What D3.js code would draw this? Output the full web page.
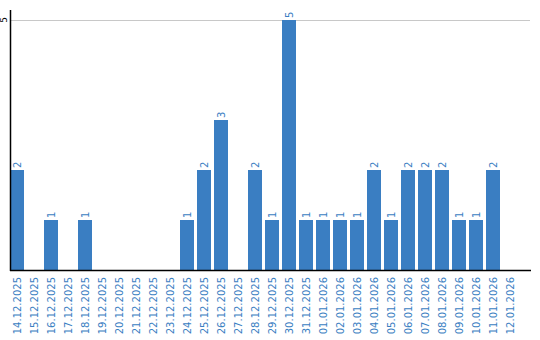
<!DOCTYPE html>
<html>
<head>
<meta charset="utf-8">
<script src="https://cdn.jsdelivr.net/npm/d3@7"></script>
<style>
  body { margin: 0; background: #fff; }
  svg text { font-family: "DejaVu Sans", Verdana, sans-serif; }
</style>
</head>
<body>
<div id="chart"></div>
<script>
var dates = ["14.12.2025","15.12.2025","16.12.2025","17.12.2025","18.12.2025","19.12.2025",
  "20.12.2025","21.12.2025","22.12.2025","23.12.2025","24.12.2025","25.12.2025","26.12.2025",
  "27.12.2025","28.12.2025","29.12.2025","30.12.2025","31.12.2025","01.01.2026","02.01.2026",
  "03.01.2026","04.01.2026","05.01.2026","06.01.2026","07.01.2026","08.01.2026","09.01.2026",
  "10.01.2026","11.01.2026","12.01.2026"];
var counts = [2,0,1,0,1,0,0,0,0,0,1,2,3,0,2,1,5,1,1,1,1,2,1,2,2,2,1,1,2,0];
var yTicks = [5];

var width = 540, height = 340;
var barColor = "#3a7ec2";

var svg = d3.select("#chart").append("svg")
    .attr("width", width)
    .attr("height", height);

var x = d3.scaleBand()
    .domain(dates)
    .range([10, 517])
    .paddingInner(3 / 17)
    .paddingOuter(0);

var y = d3.scaleLinear()
    .domain([0, 5])
    .range([270, 20]);

var rows = dates.map(function(d, i) { return { date: d, value: counts[i] }; });

// grid line
svg.selectAll("line.grid")
    .data(yTicks)
    .enter().append("line")
    .attr("class", "grid")
    .attr("x1", 11).attr("x2", 530)
    .attr("y1", function(d) { return y(d) + 0.5; })
    .attr("y2", function(d) { return y(d) + 0.5; })
    .attr("stroke", "#c8c8c8");

// y tick labels (rotated)
svg.selectAll("text.ytick")
    .data(yTicks)
    .enter().append("text")
    .attr("class", "ytick")
    .attr("transform", function(d) { return "translate(7," + y(d) + ") rotate(-90)"; })
    .attr("text-anchor", "middle")
    .attr("font-size", 9)
    .attr("fill", "#000")
    .text(function(d) { return d; });

// bars
svg.selectAll("rect.bar")
    .data(rows)
    .enter().append("rect")
    .attr("class", "bar")
    .attr("x", function(d) { return x(d.date); })
    .attr("y", function(d) { return y(d.value); })
    .attr("width", x.bandwidth())
    .attr("height", function(d) { return y(0) - y(d.value); })
    .attr("fill", barColor);

// value labels
svg.selectAll("text.val")
    .data(rows.filter(function(d) { return d.value > 0; }))
    .enter().append("text")
    .attr("class", "val")
    .attr("transform", function(d) {
        return "translate(" + (x(d.date) + x.bandwidth() / 2 + 4) + "," + (y(d.value) - 2) + ") rotate(-90)";
    })
    .attr("text-anchor", "start")
    .attr("font-size", 10)
    .attr("fill", barColor)
    .text(function(d) { return d.value; });

// x labels
svg.selectAll("text.xlab")
    .data(dates)
    .enter().append("text")
    .attr("class", "xlab")
    .attr("transform", function(d) {
        return "translate(" + (x(d) + x.bandwidth() / 2 + 4) + ",277) rotate(-90)";
    })
    .attr("text-anchor", "end")
    .attr("font-size", 10)
    .attr("fill", barColor)
    .text(function(d) { return d; });

// axes
svg.append("line")
    .attr("x1", 10.5).attr("x2", 10.5)
    .attr("y1", 10).attr("y2", 271)
    .attr("stroke", "#000").attr("stroke-width", 1.5);
svg.append("line")
    .attr("x1", 10).attr("x2", 531)
    .attr("y1", 270.5).attr("y2", 270.5)
    .attr("stroke", "#000").attr("stroke-width", 1.5);
</script>
</body>
</html>
